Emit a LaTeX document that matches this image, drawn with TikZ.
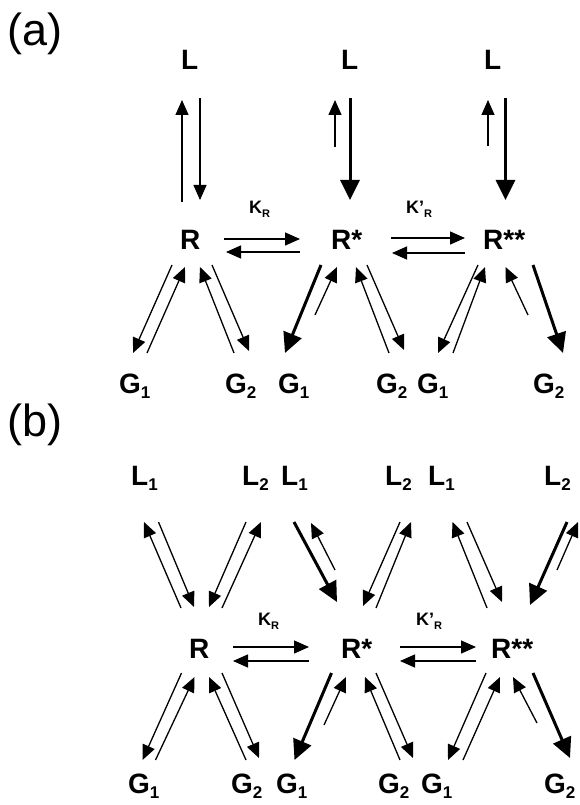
\documentclass[tikz,border=0pt]{standalone}
\usepackage{fontspec}
\setmainfont{Liberation Sans}
\usetikzlibrary{arrows.meta}
\newcommand\lsub[1]{\raisebox{-5pt}{\fontsize{17}{17}\selectfont #1}}
\newcommand\ksub[1]{\raisebox{-4pt}{\fontsize{11}{11}\selectfont #1}}
\begin{document}
\begin{tikzpicture}[x=1pt,y=-1pt,
  lbl/.style={inner sep=0pt, anchor=base west, font=\fontsize{28}{30}\selectfont\bfseries},
  klbl/.style={inner sep=0pt, anchor=base west, font=\fontsize{18}{20}\selectfont\bfseries},
  panel/.style={inner sep=0pt, anchor=base west, font=\fontsize{45}{50}\selectfont},
  tarr/.style={line width=1.3pt, -{Triangle[length=15pt,width=13pt]}},
  karr/.style={line width=3pt, -{Triangle[length=20pt,width=19pt]}}]
\useasboundingbox (0,0) rectangle (579,805);
% ---------------- panel (a)
\node[panel] (pa) at (7,46) {(a)};
\node[lbl] (La1) at (181,70) {L};
\node[lbl] (La2) at (341,70) {L};
\node[lbl] (La3) at (484,70) {L};
\node[lbl] (Ra1) at (180,249) {R};
\node[lbl] (Ra2) at (331,249) {R*};
\node[lbl] (Ra3) at (483,249) {R**};
\node[klbl] (Ka1) at (249,213) {K\ksub{R}};
\node[klbl] (Ka2) at (406,213) {K'\ksub{R}};
\node[lbl] (Ga1) at (119,393) {G\lsub{1}};
\node[lbl] (Ga2) at (225,393) {G\lsub{2}};
\node[lbl] (Ga3) at (278,393) {G\lsub{1}};
\node[lbl] (Ga4) at (376,393) {G\lsub{2}};
\node[lbl] (Ga5) at (417,393) {G\lsub{1}};
\node[lbl] (Ga6) at (533,393) {G\lsub{2}};
% vertical
\draw[tarr] ([shift={(2,-47)}]Ra1.base west) -- ([shift={(1,30)}]La1.base west);
\draw[tarr] ([shift={(19,28)}]La1.base west) -- ([shift={(20,-49)}]Ra1.base west);
\draw[tarr] ([shift={(4,-102)}]Ra2.base west) -- ([shift={(-6,30)}]La2.base west);
\draw[karr] ([shift={(9,28)}]La2.base west) -- ([shift={(19,-49)}]Ra2.base west);
\draw[tarr] ([shift={(5,-103)}]Ra3.base west) -- ([shift={(4,30)}]La3.base west);
\draw[karr] ([shift={(21.5,28)}]La3.base west) -- ([shift={(22.5,-49)}]Ra3.base west);
% horizontal
\draw[tarr] ([shift={(44,-10)}]Ra1.base west) -- ([shift={(-31,-10)}]Ra2.base west);
\draw[tarr] ([shift={(-31,3)}]Ra2.base west) -- ([shift={(46,3)}]Ra1.base west);
\draw[tarr] ([shift={(60,-11)}]Ra2.base west) -- ([shift={(-18,-11)}]Ra3.base west);
\draw[tarr] ([shift={(-18,4)}]Ra3.base west) -- ([shift={(61,4)}]Ra2.base west);
% lower
\draw[tarr] ([shift={(-8,16)}]Ra1.base west) -- ([shift={(14,-40)}]Ga1.base west);
\draw[tarr] ([shift={(28,-40)}]Ga1.base west) -- ([shift={(5,18)}]Ra1.base west);
\draw[tarr] ([shift={(9,-40)}]Ga2.base west) -- ([shift={(20,18)}]Ra1.base west);
\draw[tarr] ([shift={(32,16)}]Ra1.base west) -- ([shift={(24,-42)}]Ga2.base west);
\draw[karr] ([shift={(-10,16)}]Ra2.base west) -- ([shift={(7,-40)}]Ga3.base west);
\draw[tarr] ([shift={(-16,66)}]Ra2.base west) -- ([shift={(6,18)}]Ra2.base west);
\draw[tarr] ([shift={(13,-40)}]Ga4.base west) -- ([shift={(25,18)}]Ra2.base west);
\draw[tarr] ([shift={(36,16)}]Ra2.base west) -- ([shift={(28,-43)}]Ga4.base west);
\draw[tarr] ([shift={(-5,16)}]Ra3.base west) -- ([shift={(21,-40)}]Ga5.base west);
\draw[tarr] ([shift={(36,-40)}]Ga5.base west) -- ([shift={(2,18)}]Ra3.base west);
\draw[tarr] ([shift={(45,66)}]Ra3.base west) -- ([shift={(22.5,18)}]Ra3.base west);
\draw[karr] ([shift={(50,16)}]Ra3.base west) -- ([shift={(30,-40)}]Ga6.base west);
% ---------------- panel (b)
\node[panel] (pb) at (7,436) {(b)};
\node[lbl] (Lb1) at (131,485) {L\lsub{1}};
\node[lbl] (Lb2) at (242,485) {L\lsub{2}};
\node[lbl] (Lb3) at (281,485) {L\lsub{1}};
\node[lbl] (Lb4) at (385,485) {L\lsub{2}};
\node[lbl] (Lb5) at (428,485) {L\lsub{1}};
\node[lbl] (Lb6) at (544,485) {L\lsub{2}};
\node[lbl] (Rb1) at (189,658) {R};
\node[lbl] (Rb2) at (341,658) {R*};
\node[lbl] (Rb3) at (491,658) {R**};
\node[klbl] (Kb1) at (258,625) {K\ksub{R}};
\node[klbl] (Kb2) at (416,625) {K'\ksub{R}};
\node[lbl] (Gb1) at (128,793) {G\lsub{1}};
\node[lbl] (Gb2) at (231,793) {G\lsub{2}};
\node[lbl] (Gb3) at (276,793) {G\lsub{1}};
\node[lbl] (Gb4) at (378,793) {G\lsub{2}};
\node[lbl] (Gb5) at (421,793) {G\lsub{1}};
\node[lbl] (Gb6) at (544,793) {G\lsub{2}};
% horizontal
\draw[tarr] ([shift={(44,-11)}]Rb1.base west) -- ([shift={(-32,-11)}]Rb2.base west);
\draw[tarr] ([shift={(-32,3)}]Rb2.base west) -- ([shift={(44,3)}]Rb1.base west);
\draw[tarr] ([shift={(59,-11)}]Rb2.base west) -- ([shift={(-15,-11)}]Rb3.base west);
\draw[tarr] ([shift={(-15,3)}]Rb3.base west) -- ([shift={(59,3)}]Rb2.base west);
% top
\draw[tarr] ([shift={(-8,-50)}]Rb1.base west) -- ([shift={(13,37)}]Lb1.base west);
\draw[tarr] ([shift={(27.5,37)}]Lb1.base west) -- ([shift={(5,-51)}]Rb1.base west);
\draw[tarr] ([shift={(4,37)}]Lb2.base west) -- ([shift={(20,-51)}]Rb1.base west);
\draw[tarr] ([shift={(33,-50)}]Rb1.base west) -- ([shift={(19,37)}]Lb2.base west);
\draw[karr] ([shift={(13,37)}]Lb3.base west) -- ([shift={(-4,-56)}]Rb2.base west);
\draw[tarr] ([shift={(-6,-88)}]Rb2.base west) -- ([shift={(30,38)}]Lb3.base west);
\draw[tarr] ([shift={(15,37)}]Lb4.base west) -- ([shift={(22,-52)}]Rb2.base west);
\draw[tarr] ([shift={(35,-50)}]Rb2.base west) -- ([shift={(26,37)}]Lb4.base west);
\draw[tarr] ([shift={(-4,-50)}]Rb3.base west) -- ([shift={(24.5,37)}]Lb5.base west);
\draw[tarr] ([shift={(39,37)}]Lb5.base west) -- ([shift={(11,-56)}]Rb3.base west);
\draw[karr] ([shift={(23,37)}]Lb6.base west) -- ([shift={(39,-53)}]Rb3.base west);
\draw[tarr] ([shift={(66,-88)}]Rb3.base west) -- ([shift={(34,37)}]Lb6.base west);
% bottom
\draw[tarr] ([shift={(-7.5,15)}]Rb1.base west) -- ([shift={(14.5,-33)}]Gb1.base west);
\draw[tarr] ([shift={(27.5,-33)}]Gb1.base west) -- ([shift={(5.5,19)}]Rb1.base west);
\draw[tarr] ([shift={(15,-33)}]Gb2.base west) -- ([shift={(20,19)}]Rb1.base west);
\draw[tarr] ([shift={(33,15)}]Rb1.base west) -- ([shift={(28,-35)}]Gb2.base west);
\draw[karr] ([shift={(-9.5,15)}]Rb2.base west) -- ([shift={(18.5,-33)}]Gb3.base west);
\draw[tarr] ([shift={(-17,67)}]Rb2.base west) -- ([shift={(5,19)}]Rb2.base west);
\draw[tarr] ([shift={(22,-33)}]Gb4.base west) -- ([shift={(24,19)}]Rb2.base west);
\draw[tarr] ([shift={(35,15)}]Rb2.base west) -- ([shift={(35,-35)}]Gb4.base west);
\draw[tarr] ([shift={(-5,15)}]Rb3.base west) -- ([shift={(27,-33)}]Gb5.base west);
\draw[tarr] ([shift={(42,-33)}]Gb5.base west) -- ([shift={(9,19)}]Rb3.base west);
\draw[tarr] ([shift={(46,65)}]Rb3.base west) -- ([shift={(22,19)}]Rb3.base west);
\draw[karr] ([shift={(42,15)}]Rb3.base west) -- ([shift={(26,-35)}]Gb6.base west);
\end{tikzpicture}
\end{document}
